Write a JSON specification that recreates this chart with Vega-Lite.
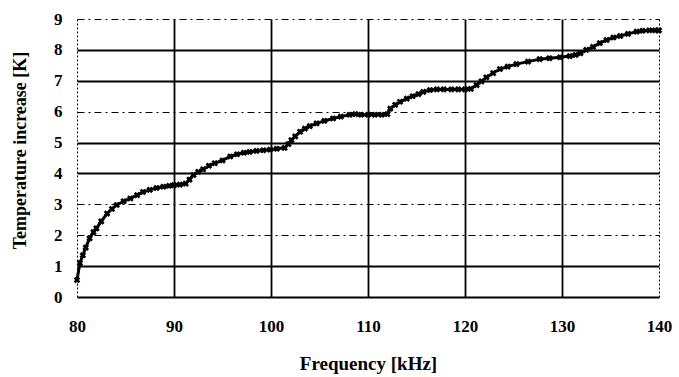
{
  "$schema": "https://vega.github.io/schema/vega-lite/v6.json",
  "width": 582,
  "height": 278,
  "autosize": {"type": "none"},
  "padding": {"left": 77, "top": 19, "right": 20, "bottom": 80},
  "background": "white",
  "config": {
    "view": {"stroke": null},
    "font": "Liberation Serif"
  },
  "data": {
    "values": [
      {"f": 80.0, "t": 0.55}, {"f": 80.3, "t": 1.1}, {"f": 80.6, "t": 1.35}, {"f": 80.9, "t": 1.6},
      {"f": 81.3, "t": 1.9}, {"f": 81.7, "t": 2.1}, {"f": 82.0, "t": 2.22}, {"f": 82.5, "t": 2.45},
      {"f": 83.1, "t": 2.7}, {"f": 83.6, "t": 2.85}, {"f": 84.1, "t": 2.98}, {"f": 84.8, "t": 3.1},
      {"f": 85.5, "t": 3.19}, {"f": 86.2, "t": 3.3}, {"f": 86.8, "t": 3.4}, {"f": 87.5, "t": 3.47},
      {"f": 88.2, "t": 3.53}, {"f": 88.9, "t": 3.57}, {"f": 89.5, "t": 3.6}, {"f": 90.0, "t": 3.62},
      {"f": 90.6, "t": 3.64}, {"f": 91.2, "t": 3.67}, {"f": 91.6, "t": 3.8}, {"f": 92.0, "t": 3.95},
      {"f": 92.5, "t": 4.05}, {"f": 93.0, "t": 4.13}, {"f": 93.6, "t": 4.25}, {"f": 94.2, "t": 4.33},
      {"f": 95.0, "t": 4.42}, {"f": 95.8, "t": 4.55}, {"f": 96.5, "t": 4.62}, {"f": 97.2, "t": 4.67},
      {"f": 97.8, "t": 4.7}, {"f": 98.5, "t": 4.73}, {"f": 99.2, "t": 4.75}, {"f": 99.9, "t": 4.77},
      {"f": 100.6, "t": 4.8}, {"f": 101.4, "t": 4.83}, {"f": 101.8, "t": 4.95}, {"f": 102.1, "t": 5.08},
      {"f": 102.5, "t": 5.2}, {"f": 103.0, "t": 5.35}, {"f": 103.5, "t": 5.45}, {"f": 104.0, "t": 5.53},
      {"f": 104.7, "t": 5.62}, {"f": 105.5, "t": 5.7}, {"f": 106.4, "t": 5.78}, {"f": 107.2, "t": 5.84},
      {"f": 108.1, "t": 5.9}, {"f": 108.7, "t": 5.92}, {"f": 109.3, "t": 5.9}, {"f": 110.0, "t": 5.9},
      {"f": 110.7, "t": 5.9}, {"f": 111.4, "t": 5.9}, {"f": 112.0, "t": 5.92}, {"f": 112.3, "t": 6.1},
      {"f": 112.8, "t": 6.22}, {"f": 113.3, "t": 6.32}, {"f": 114.0, "t": 6.42}, {"f": 114.6, "t": 6.5},
      {"f": 115.2, "t": 6.57}, {"f": 115.7, "t": 6.64}, {"f": 116.4, "t": 6.7}, {"f": 117.1, "t": 6.72},
      {"f": 117.8, "t": 6.72}, {"f": 118.6, "t": 6.72}, {"f": 119.3, "t": 6.72}, {"f": 120.0, "t": 6.72},
      {"f": 120.6, "t": 6.74}, {"f": 121.2, "t": 6.86}, {"f": 121.7, "t": 6.98}, {"f": 122.2, "t": 7.11},
      {"f": 122.9, "t": 7.25}, {"f": 123.6, "t": 7.38}, {"f": 124.4, "t": 7.46}, {"f": 125.3, "t": 7.54},
      {"f": 126.5, "t": 7.62}, {"f": 127.7, "t": 7.7}, {"f": 128.7, "t": 7.73}, {"f": 129.8, "t": 7.76},
      {"f": 130.8, "t": 7.8}, {"f": 131.4, "t": 7.84}, {"f": 131.9, "t": 7.89}, {"f": 132.5, "t": 8.0},
      {"f": 133.2, "t": 8.1}, {"f": 133.9, "t": 8.22}, {"f": 134.6, "t": 8.32}, {"f": 135.3, "t": 8.4},
      {"f": 136.0, "t": 8.45}, {"f": 136.8, "t": 8.52}, {"f": 137.7, "t": 8.59}, {"f": 138.3, "t": 8.62},
      {"f": 139.0, "t": 8.63}, {"f": 139.6, "t": 8.63}, {"f": 140.0, "t": 8.63}
    ]
  },
  "encoding": {
    "x": {
      "field": "f",
      "type": "quantitative",
      "scale": {"domain": [80, 140], "nice": false, "zero": false},
      "axis": {
        "title": "Frequency [kHz]",
        "values": [80, 90, 100, 110, 120, 130, 140],
        "ticks": false,
        "domain": false,
        "labelPadding": 21,
        "labelFont": "Liberation Serif",
        "labelFontSize": 17,
        "labelFontWeight": "bold",
        "labelColor": "#000",
        "labelFlush": false,
        "titleFont": "Liberation Serif",
        "titleFontSize": 19,
        "titleFontWeight": "bold",
        "titleColor": "#000",
        "titleBaseline": "middle",
        "titleY": 66,
        "grid": true,
        "gridColor": "#000",
        "gridOpacity": 1,
        "gridWidth": {"condition": {"test": "datum.value === 80 || datum.value === 140", "value": 1}, "value": 1.8},
        "gridDash": {"condition": {"test": "datum.value === 80 || datum.value === 140", "value": [2, 2]}, "value": []}
      }
    },
    "y": {
      "field": "t",
      "type": "quantitative",
      "scale": {"domain": [0, 9], "nice": false},
      "axis": {
        "title": "Temperature increase [K]",
        "values": [0, 1, 2, 3, 4, 5, 6, 7, 8, 9],
        "ticks": false,
        "domain": false,
        "labelPadding": 15,
        "labelFont": "Liberation Serif",
        "labelFontSize": 17,
        "labelFontWeight": "bold",
        "labelColor": "#000",
        "labelFlush": false,
        "titleFont": "Liberation Serif",
        "titleFontSize": 18,
        "titleFontWeight": "bold",
        "titleColor": "#000",
        "titleBaseline": "middle",
        "titleAlign": "center",
        "titleX": -57,
        "titleY": 131,
        "grid": true,
        "gridColor": "#000",
        "gridOpacity": 1,
        "gridWidth": {"condition": {"test": "datum.value === 2 || datum.value === 3 || datum.value === 6 || datum.value === 9", "value": 1.2}, "value": 1.8},
        "gridDash": {"condition": {"test": "datum.value === 2 || datum.value === 3 || datum.value === 6 || datum.value === 9", "value": [7, 4, 2, 4]}, "value": []}
      }
    }
  },
  "layer": [
    {"mark": {"type": "line", "color": "#000", "strokeWidth": 3}},
    {"mark": {"type": "point", "shape": "cross", "angle": 45, "filled": true, "color": "#000", "size": 45, "opacity": 1}}
  ]
}
